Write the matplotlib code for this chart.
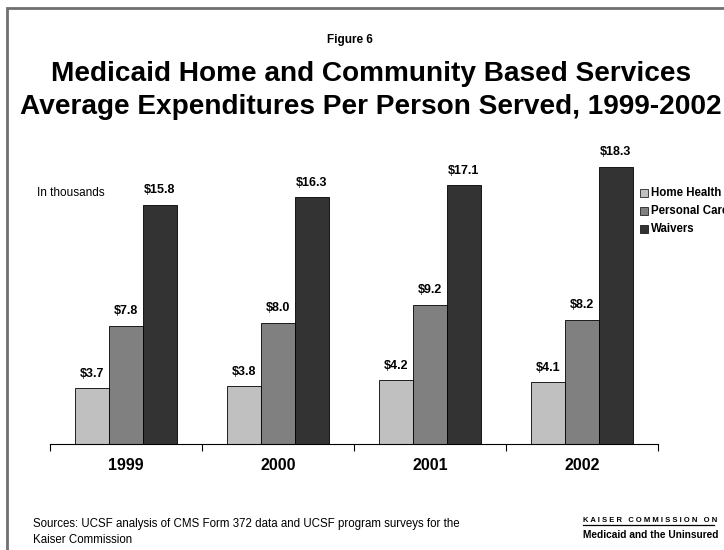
import matplotlib
matplotlib.use("Agg")
import matplotlib.pyplot as plt
import numpy as np
from matplotlib.patches import Rectangle

plt.rcParams['font.family'] = ['Liberation Sans', 'DejaVu Sans']

years = ["1999", "2000", "2001", "2002"]
series_names = ["Home Health", "Personal Care", "Waivers"]
home_health = [3.7, 3.8, 4.2, 4.1]
personal_care = [7.8, 8.0, 9.2, 8.2]
waivers = [15.8, 16.3, 17.1, 18.3]
colors = ["#c0c0c0", "#808080", "#333333"]

W, H = 724, 550
fig = plt.figure(figsize=(W / 100, H / 100), dpi=100)

# outer frame (continues past the right and bottom edges)
fig.patches.append(Rectangle((7 / W, -0.1), 1.2, (H - 8) / H + 0.1,
                             transform=fig.transFigure, fill=False,
                             edgecolor="#707070", linewidth=2.0))

ax = fig.add_axes([50 / W, (H - 444) / H, 608 / W, 303 / H])
x = np.arange(len(years))
bw = 0.223
data = [home_health, personal_care, waivers]
for i, (vals, c, name) in enumerate(zip(data, colors, series_names)):
    pos = x + (i - 1) * bw
    ax.bar(pos, vals, width=bw, color=c, edgecolor="black",
           linewidth=0.6, label=name)
    for xp, v in zip(pos, vals):
        ax.text(xp, v + 0.55, f"${v:.1f}", ha="center", va="bottom",
                fontsize=9, fontweight="bold")

ax.set_xlim(-0.5, len(years) - 0.5)
ax.set_ylim(0, 20)
for s in ["top", "right", "left"]:
    ax.spines[s].set_visible(False)
ax.spines["bottom"].set_linewidth(0.8)
ax.set_yticks([])
ax.set_xticks(np.arange(len(years) + 1) - 0.5)
ax.set_xticklabels([])
ax.tick_params(axis="x", length=5, width=0.8, direction="out")
for xi, yl in zip(x, years):
    ax.text(xi, -0.95, yl, ha="center", va="top", fontsize=11.5,
            fontweight="bold")

# legend: swatches with labels
leg_y = [193, 211, 229]
for c, name, yy in zip(colors, series_names, leg_y):
    fig.patches.append(Rectangle((640 / W, (H - yy - 4) / H), 8 / W, 8 / H,
                                 transform=fig.transFigure, facecolor=c,
                                 edgecolor="black", linewidth=0.5))
    fig.text(651 / W, (H - yy) / H, name, fontsize=8.3, fontweight="bold",
             va="center", ha="left")

fig.text(350 / W, (H - 40) / H, "Figure 6", fontsize=8.5, fontweight="bold",
         ha="center", va="center")
fig.text(371 / W, (H - 74) / H, "Medicaid Home and Community Based Services",
         fontsize=20.2, fontweight="bold", ha="center", va="center")
fig.text(371 / W, (H - 107) / H,
         "Average Expenditures Per Person Served, 1999-2002",
         fontsize=20.2, fontweight="bold", ha="center", va="center")
fig.text(37 / W, (H - 193) / H, "In thousands", fontsize=8.5,
         ha="left", va="center")

fig.text(33 / W, (H - 524) / H,
         "Sources: UCSF analysis of CMS Form 372 data and UCSF program surveys for the",
         fontsize=8.3, ha="left", va="center")
fig.text(33 / W, (H - 540) / H, "Kaiser Commission", fontsize=8.3,
         ha="left", va="center")

fig.text(583 / W, (H - 520) / H, "K A I S E R   C O M M I S S I O N   O N",
         fontsize=5.5, fontweight="bold", ha="left", va="center")
fig.add_artist(plt.Line2D([583 / W, 714 / W], [(H - 525) / H, (H - 525) / H],
                          transform=fig.transFigure, color="black", linewidth=0.9))
fig.text(583 / W, (H - 535) / H, "Medicaid and the Uninsured",
         fontsize=7.3, fontweight="heavy", ha="left", va="center")

fig.savefig("out.png", dpi=100)
